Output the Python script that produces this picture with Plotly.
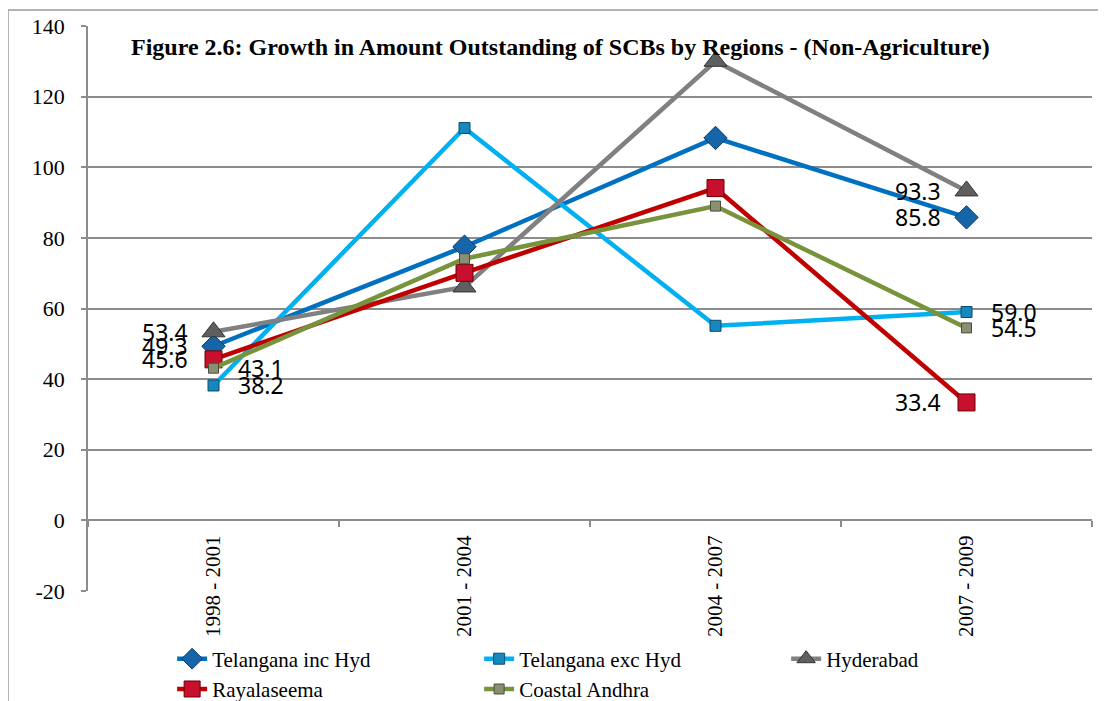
import plotly.graph_objects as go

# periods on the x axis
periods = ['1998 - 2001', '2001 - 2004', '2004 - 2007', '2007 - 2009']

# growth (%) in amount outstanding by region
tel_inc_hyd = [49.3, 77.5, 108.3, 85.8]
tel_exc_hyd = [38.2, 111.1, 55.1, 59.0]
hyderabad = [53.4, 66.1, 130.0, 93.3]
rayalaseema = [45.6, 70.1, 94.1, 33.4]
coastal_andhra = [43.1, 74.1, 89.0, 54.5]

y_ticks = [-20, 0, 20, 40, 60, 80, 100, 120, 140]

series = [
    # name, values, line colour, marker symbol, marker fill, marker edge, marker size
    ('Telangana inc Hyd', tel_inc_hyd, '#0070C0', 'diamond', '#1565A8', '#0b3a66', 18),
    ('Telangana exc Hyd', tel_exc_hyd, '#00B0F0', 'square', '#1688BD', '#0a4d70', 11),
    ('Hyderabad', hyderabad, '#808080', 'triangle-up', '#5f5f5f', '#333333', 20),
    ('Rayalaseema', rayalaseema, '#C00000', 'square', '#C8102E', '#6b0000', 17),
    ('Coastal Andhra', coastal_andhra, '#77933C', 'square', '#8a8e72', '#4b4d3a', 10),
]

# which side of the marker the first / last value label sits on
first_side = ['left', 'right', 'left', 'left', 'right']
last_side = ['left', 'right', 'left', 'left', 'right']

serif = 'Liberation Serif, Times New Roman, serif'

fig = go.Figure()
for name, vals, lc, sym, mc, me, ms in series:
    fig.add_trace(go.Scatter(
        x=periods, y=vals, name=name, mode='lines+markers',
        line=dict(color=lc, width=4.5),
        marker=dict(symbol=sym, size=ms, color=mc, line=dict(color=me, width=1)),
    ))

label_font = dict(family='Noto Sans', size=23, color='black')
for i, (name, vals, *_rest) in enumerate(series):
    for idx, side in ((0, first_side[i]), (len(periods) - 1, last_side[i])):
        fig.add_annotation(
            x=periods[idx], y=vals[idx], text='%.1f' % vals[idx],
            showarrow=False, font=label_font,
            xanchor='right' if side == 'left' else 'left',
            xshift=-24 if side == 'left' else 22,
        )

fig.add_annotation(
    xref='paper', yref='paper', x=0.471, y=0.963,
    text='<b>Figure 2.6: Growth in Amount Outstanding of SCBs by Regions - (Non-Agriculture)</b>',
    showarrow=False, font=dict(family=serif, size=24, color='black'),
    xanchor='center', yanchor='middle',
)

# outer chart border
fig.add_shape(type='rect', xref='paper', yref='paper',
              x0=-0.0797, x1=1.04, y0=-0.3, y1=1.0283,
              line=dict(color='#9a9a9a', width=1.5), layer='below')

grid = '#8c8c8c'
# the page body adds 8px on the left and top, so margins are offset by that
fig.update_layout(
    width=1106, height=701,
    margin=dict(l=80, r=22, t=18, b=118, autoexpand=False),
    paper_bgcolor='white', plot_bgcolor='white',
    font=dict(family=serif, size=20, color='black'),
    xaxis=dict(
        type='category', range=[-0.5, 3.5], showgrid=False, automargin=False,
        showline=True, linecolor=grid, linewidth=1.5,
        ticks='outside', tickson='boundaries', ticklen=6, tickcolor=grid, tickwidth=1.5,
        tickangle=-90, anchor='free', position=0.125, ticklabelstandoff=6,
        tickfont=dict(family=serif, size=21, color='black'),
    ),
    yaxis=dict(
        range=[-20, 140], tickvals=y_ticks, ticktext=[str(v) for v in y_ticks],
        showgrid=True, gridcolor=grid, gridwidth=1.5, automargin=False,
        showline=True, linecolor=grid, linewidth=1.5, zeroline=False,
        ticks='outside', ticklen=5, tickcolor=grid, tickwidth=1.5,
        ticklabelstandoff=12,
        tickfont=dict(family=serif, size=22, color='black'),
    ),
    legend=dict(
        orientation='h', xref='container', yref='container',
        x=0.1484, y=0.1005, xanchor='left', yanchor='top',
        entrywidth=262, entrywidthmode='pixels', tracegroupgap=0,
        font=dict(family=serif, size=21, color='black'),
        bgcolor='rgba(0,0,0,0)',
    ),
    showlegend=True,
)

fig.write_html('out.html')
